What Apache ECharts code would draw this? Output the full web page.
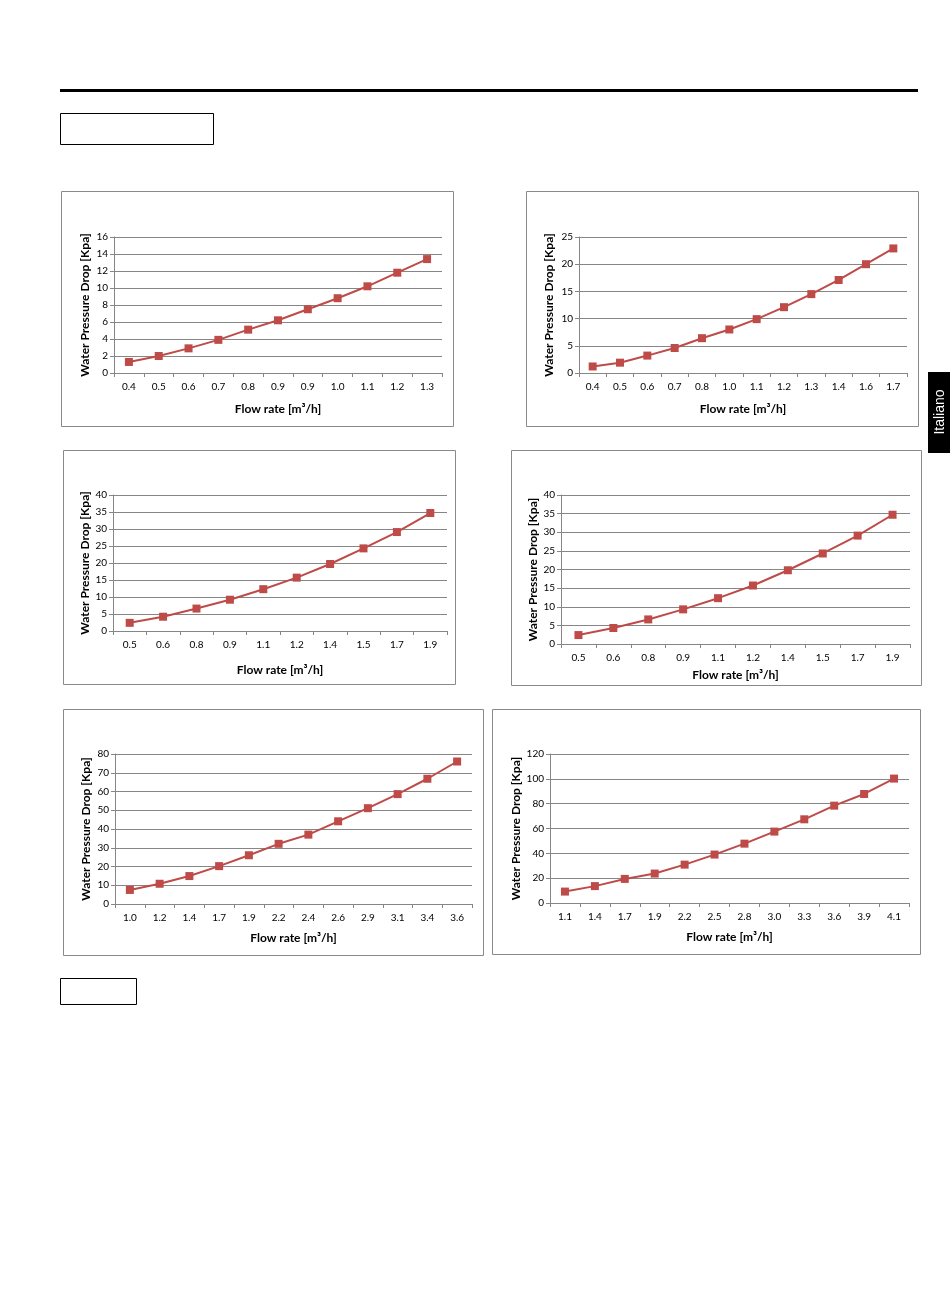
<!DOCTYPE html>
<html>
<head>
<meta charset="utf-8">
<script src="https://cdn.jsdelivr.net/npm/echarts@6.0.0/dist/echarts.min.js"></script>
<style>
  html, body { margin: 0; padding: 0; background: #fff; }
  #main { width: 950px; height: 1289px; }
</style>
</head>
<body>
<div id="main"></div>
<script>
// flow rate categories and pressure drop values, one pair per chart
const flow1 = ['0.4', '0.5', '0.6', '0.7', '0.8', '0.9', '0.9', '1.0', '1.1', '1.2', '1.3'];
const drop1 = [1.3, 2.0, 2.9, 3.9, 5.1, 6.2, 7.5, 8.8, 10.2, 11.8, 13.4];

const flow2 = ['0.4', '0.5', '0.6', '0.7', '0.8', '1.0', '1.1', '1.2', '1.3', '1.4', '1.6', '1.7'];
const drop2 = [1.2, 1.9, 3.2, 4.6, 6.4, 8.0, 9.9, 12.1, 14.5, 17.1, 20.0, 22.9];

const flow3 = ['0.5', '0.6', '0.8', '0.9', '1.1', '1.2', '1.4', '1.5', '1.7', '1.9'];
const drop3 = [2.4, 4.2, 6.6, 9.2, 12.3, 15.7, 19.7, 24.3, 29.1, 34.7];

const flow4 = ['0.5', '0.6', '0.8', '0.9', '1.1', '1.2', '1.4', '1.5', '1.7', '1.9'];
const drop4 = [2.4, 4.3, 6.6, 9.3, 12.3, 15.7, 19.8, 24.3, 29.1, 34.7];

const flow5 = ['1.0', '1.2', '1.4', '1.7', '1.9', '2.2', '2.4', '2.6', '2.9', '3.1', '3.4', '3.6'];
const drop5 = [7.5, 10.8, 14.9, 20.2, 26.0, 32.1, 37.0, 44.1, 51.1, 58.6, 66.8, 76.0];

const flow6 = ['1.1', '1.4', '1.7', '1.9', '2.2', '2.5', '2.8', '3.0', '3.3', '3.6', '3.9', '4.1'];
const drop6 = [9.2, 13.6, 19.4, 23.7, 30.9, 39.0, 47.8, 57.5, 67.4, 78.4, 87.8, 100.2];

// y axis ranges
const yMax = [16, 25, 40, 40, 80, 120];
const yStep = [2, 5, 5, 5, 10, 20];

const flows = [flow1, flow2, flow3, flow4, flow5, flow6];
const drops = [drop1, drop2, drop3, drop4, drop5, drop6];

// plot areas and frames (pixels)
const grids = [
    { left: 114, top: 237, width: 328, height: 136 },
    { left: 579, top: 237, width: 328, height: 136 },
    { left: 113, top: 495, width: 334, height: 136 },
    { left: 561, top: 495, width: 349, height: 149 },
    { left: 115, top: 754, width: 357, height: 150 },
    { left: 550, top: 754, width: 359, height: 149 }
];
const frames = [
    [61, 191, 392, 235],
    [526, 191, 392, 235],
    [63, 450, 392, 234],
    [511, 450, 410, 235],
    [63, 709, 420, 246],
    [492, 709, 428, 245]
];
const xNameGap = [30, 30, 33, 25, 28, 28];
const yNameGap = [23, 24, 21, 21, 23, 28];

const FONT = 'Lato';
const RED = '#BE4B48';
const GRID_GRAY = '#868686';

const myChart = echarts.init(document.getElementById('main'));

const xAxes = [];
const yAxes = [];
const series = [];
for (let i = 0; i < 6; i++) {
    xAxes.push({
        type: 'category',
        gridIndex: i,
        data: flows[i],
        name: 'Flow rate [m³/h]',
        nameLocation: 'middle',
        nameGap: xNameGap[i],
        nameTextStyle: { fontFamily: FONT, fontWeight: 'bold', fontSize: 12, color: '#000' },
        axisLine: { lineStyle: { color: GRID_GRAY, width: 1 } },
        axisTick: { show: true, length: 4, lineStyle: { color: GRID_GRAY } },
        axisLabel: { fontFamily: FONT, fontSize: 10, color: '#000', margin: 9, interval: 0 }
    });
    yAxes.push({
        type: 'value',
        gridIndex: i,
        min: 0,
        max: yMax[i],
        interval: yStep[i],
        name: 'Water Pressure Drop [Kpa]',
        nameLocation: 'middle',
        nameGap: yNameGap[i],
        nameTextStyle: { fontFamily: FONT, fontWeight: 'bold', fontSize: 12, color: '#000' },
        axisLine: { show: true, lineStyle: { color: GRID_GRAY, width: 1 } },
        axisTick: { show: true, length: 4, lineStyle: { color: GRID_GRAY } },
        axisLabel: { fontFamily: FONT, fontSize: 10, color: '#000', margin: 6 },
        splitLine: { show: true, lineStyle: { color: GRID_GRAY, width: 1 } }
    });
    series.push({
        type: 'line',
        xAxisIndex: i,
        yAxisIndex: i,
        data: drops[i],
        symbol: 'rect',
        symbolSize: 8,
        lineStyle: { color: RED, width: 2 },
        itemStyle: { color: RED }
    });
}

// page decoration: top rule, empty label boxes, language tab, chart frames
const graphic = [
    { type: 'rect', shape: { x: 60, y: 89, width: 858, height: 3 }, style: { fill: '#000' } },
    { type: 'rect', shape: { x: 60.5, y: 113.5, width: 153, height: 31 }, style: { fill: 'none', stroke: '#000', lineWidth: 1 } },
    { type: 'rect', shape: { x: 60.5, y: 978.5, width: 76, height: 26 }, style: { fill: 'none', stroke: '#000', lineWidth: 1 } },
    { type: 'rect', shape: { x: 928, y: 372, width: 22, height: 81 }, style: { fill: '#000' } },
    {
        type: 'text',
        x: 940,
        y: 412,
        rotation: Math.PI / 2,
        style: { text: 'Italiano', fill: '#fff', font: '14px "Liberation Sans"', align: 'center', verticalAlign: 'middle' }
    }
];
frames.forEach(f => {
    graphic.push({
        type: 'rect',
        shape: { x: f[0] + 0.5, y: f[1] + 0.5, width: f[2], height: f[3] },
        style: { fill: 'none', stroke: '#8a8a8a', lineWidth: 1 }
    });
});

myChart.setOption({
    animation: false,
    grid: grids,
    xAxis: xAxes,
    yAxis: yAxes,
    series: series,
    graphic: graphic
});
</script>
</body>
</html>
